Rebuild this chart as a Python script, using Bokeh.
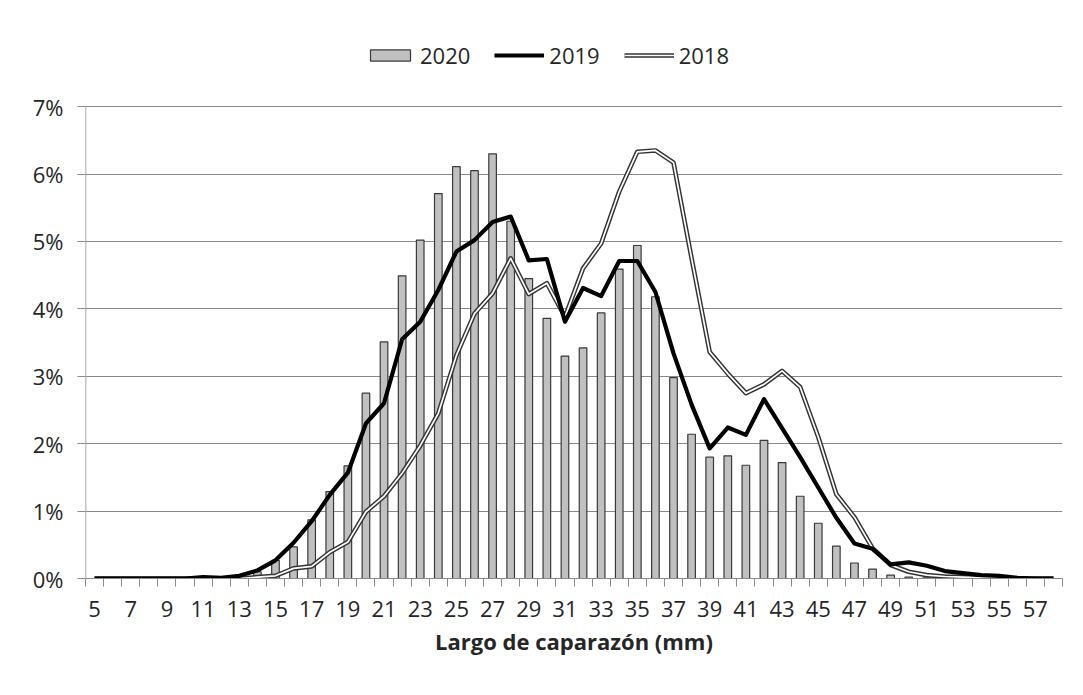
from bokeh.plotting import figure
from bokeh.models import (FixedTicker, NumeralTickFormatter, Legend, LegendItem,
                          ColumnDataSource, Range1d)
from bokeh.embed import file_html
from bokeh.resources import INLINE

# ---- data (percent of individuals per carapace length class, mm) ----
lengths = list(range(5, 59))
pct_2020 = [0, 0, 0, 0, 0, 0, 0, 0, 0.03, 0.10, 0.27, 0.47, 0.87, 1.29, 1.67, 2.75,
            3.51, 4.49, 5.02, 5.71, 6.11, 6.05, 6.30, 5.30, 4.45, 3.86, 3.30, 3.42,
            3.94, 4.59, 4.94, 4.18, 2.98, 2.14, 1.80, 1.82, 1.68, 2.05, 1.72, 1.22,
            0.82, 0.48, 0.23, 0.14, 0.05, 0.02, 0.01, 0.01, 0, 0, 0, 0, 0, 0]
pct_2019 = [0, 0, 0, 0, 0, 0, 0.02, 0.01, 0.04, 0.12, 0.27, 0.53, 0.85, 1.24, 1.57, 2.30,
            2.60, 3.55, 3.81, 4.28, 4.85, 5.02, 5.29, 5.37, 4.72, 4.74, 3.81, 4.31,
            4.19, 4.71, 4.71, 4.25, 3.34, 2.58, 1.93, 2.24, 2.13, 2.66, 2.23, 1.80,
            1.35, 0.90, 0.52, 0.44, 0.21, 0.24, 0.19, 0.11, 0.08, 0.05, 0.04, 0.01, 0, 0]
pct_2018 = [0, 0, 0, 0, 0, 0, 0, 0, 0, 0.02, 0.04, 0.15, 0.18, 0.39, 0.54, 0.99,
            1.22, 1.56, 1.97, 2.45, 3.31, 3.93, 4.23, 4.75, 4.22, 4.38, 3.88, 4.60,
            4.97, 5.74, 6.33, 6.35, 6.17, 4.75, 3.36, 3.04, 2.75, 2.88, 3.08, 2.84,
            2.10, 1.25, 0.91, 0.45, 0.20, 0.10, 0.05, 0.03, 0.02, 0.01, 0.01, 0, 0, 0]
series_names = ["2020", "2019", "2018"]
x_labels = [5, 7, 9, 11, 13, 15, 17, 19, 21, 23, 25, 27, 29, 31, 33, 35, 37, 39,
            41, 43, 45, 47, 49, 51, 53, 55, 57]
y_ticks = [0, 0.01, 0.02, 0.03, 0.04, 0.05, 0.06, 0.07]
x_title = "Largo de caparazón (mm)"

FONT = "Open Sans"
GRAY = "#8a8a8a"
TXT = "#262626"

src = ColumnDataSource(dict(
    x=lengths,
    y20=[v / 100 for v in pct_2020],
    y19=[v / 100 for v in pct_2019],
    y18=[v / 100 for v in pct_2018],
))

x_start = lengths[0] - 0.5
x_end = lengths[-1] + 0.5

W, H = 1083, 695
p = figure(width=W, height=H, output_backend="svg", toolbar_location=None,
           x_range=Range1d(x_start, x_end),
           y_range=Range1d(0, 0.081),
           min_border_left=85, min_border_right=21,
           min_border_top=32, min_border_bottom=117)
p.outline_line_color = None
p.background_fill_color = "white"
p.border_fill_color = "white"

# value axis line, only over the 0-7% span (the top of the frame holds the legend)
p.segment(x0=[x_start], y0=[y_ticks[0]], x1=[x_start], y1=[y_ticks[-1]],
          line_color=GRAY, line_width=1.5)

r20 = p.vbar(x="x", top="y20", width=0.42, source=src,
             fill_color="#c0c0c0", line_color="#3a3a3a", line_width=1.2)
r18o = p.line("x", "y18", source=src, line_color="#333333", line_width=4.6,
              line_join="round")
r18i = p.line("x", "y18", source=src, line_color="white", line_width=1.7,
              line_join="round")
r19 = p.line("x", "y19", source=src, line_color="black", line_width=4.2,
             line_join="round")

# axes
p.xaxis.ticker = FixedTicker(ticks=x_labels,
                             minor_ticks=[v - 0.5 for v in lengths] + [x_end])
p.xaxis.major_tick_out = 0
p.xaxis.major_tick_in = 0
p.xaxis.minor_tick_out = 8
p.xaxis.minor_tick_in = 0
p.xaxis.minor_tick_line_color = GRAY
p.xaxis.axis_line_color = GRAY
p.xaxis.major_label_standoff = 14
p.xaxis.major_label_text_font = FONT
p.xaxis.major_label_text_font_size = "22px"
p.xaxis.major_label_text_color = TXT
p.xaxis.axis_label = x_title
p.xaxis.axis_label_text_font = FONT
p.xaxis.axis_label_text_font_style = "bold"
p.xaxis.axis_label_text_font_size = "22px"
p.xaxis.axis_label_text_color = TXT
p.xaxis.axis_label_standoff = 6

p.yaxis.ticker = FixedTicker(ticks=y_ticks)
p.yaxis.formatter = NumeralTickFormatter(format="0%")
p.yaxis.major_tick_out = 8
p.yaxis.major_tick_in = 0
p.yaxis.minor_tick_line_color = None
p.yaxis.major_tick_line_color = GRAY
p.yaxis.axis_line_color = None
p.yaxis.major_label_standoff = 14
p.yaxis.major_label_text_font = FONT
p.yaxis.major_label_text_font_size = "22px"
p.yaxis.major_label_text_color = TXT

p.xgrid.grid_line_color = None
p.ygrid.grid_line_color = GRAY
p.ygrid.grid_line_width = 1

legend = Legend(items=[
    LegendItem(label=series_names[0], renderers=[r20]),
    LegendItem(label=series_names[1], renderers=[r19]),
    LegendItem(label=series_names[2], renderers=[r18o, r18i]),
], orientation="horizontal", location=(280, 508))
legend.glyph_width = 50
legend.glyph_height = 14
legend.label_standoff = 5
legend.spacing = 24
legend.padding = 0
legend.margin = 0
legend.border_line_alpha = 0
legend.background_fill_alpha = 0
legend.label_text_font = FONT
legend.label_text_font_size = "22px"
legend.label_text_color = TXT
p.add_layout(legend, "center")

open("out.html", "w").write(file_html(p, INLINE))
